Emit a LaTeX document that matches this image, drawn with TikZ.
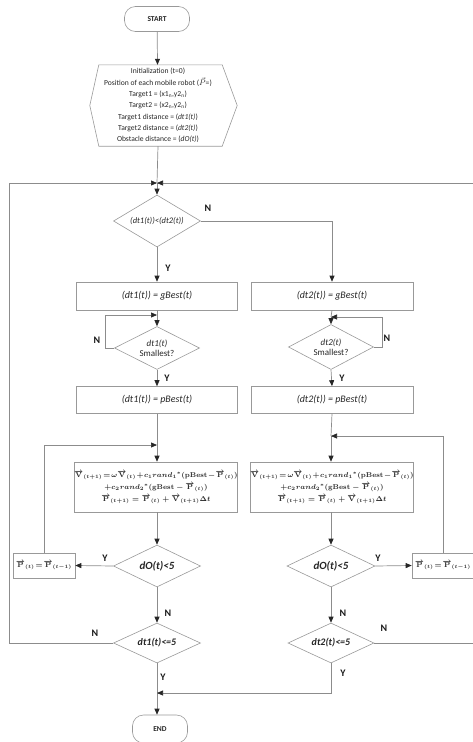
\documentclass[tikz,border=0pt]{standalone}
\usepackage{fontspec}
\setmainfont{Carlito}
\usetikzlibrary{arrows.meta,shapes.geometric,calc}
\newcommand{\vv}[1]{\overrightarrow{\mathbf{#1}}}
\begin{document}
\begin{tikzpicture}[x=1pt,y=-1pt,
  ln/.style={draw=black!45, line width=0.7pt},
  arr/.style={ln, -{Triangle[length=6pt,width=5pt,color=black!85]}},
  border/.style={draw=black!40, line width=0.6pt},
  bx/.style={border, rectangle, inner sep=1pt, align=center, text=black!85},
  dia/.style={border, diamond, aspect=2, inner sep=0pt, align=center, text=black!85},
  term/.style={border, rectangle, rounded corners=11pt, inner sep=0pt, font=\fontsize{7.5}{8}\selectfont\bfseries, text=black!85},
  lbl/.style={font=\fontsize{10}{10}\selectfont\bfseries, text=black!90, inner sep=0pt},
  small/.style={font=\fontsize{10}{12}\selectfont\itshape},
  eqn/.style={bx, inner sep=0pt, font=\fontsize{6.9}{12}\selectfont\boldmath},
  seqn/.style={bx, inner sep=0pt, font=\fontsize{6.6}{9}\selectfont\boldmath},
]
\useasboundingbox (0,0) rectangle (472,742);

% terminals and init
\node[term, minimum width=65pt, minimum height=25pt] (start) at (157,19) {START};
\node[inner sep=0pt, minimum width=124pt, minimum height=81pt, align=center,
      font=\fontsize{7.6}{11.3}\selectfont, text=black!85] (init) at (158,105.5)
  {Initialization (t=0)\\
   Position of each mobile robot ($\vec{P}$=)\\
   Target1 = (x1\textsubscript{n},y2\textsubscript{n})\\
   Target2 = (x2\textsubscript{n},y2\textsubscript{n})\\
   Target1 distance = (\textit{dt1(t)})\\
   Target2 distance = (\textit{dt2(t)})\\
   Obstacle distance = (\textit{dO(t)})};
\draw[border] ([xshift=3pt]init.north west) -- ([xshift=2pt]init.north east)
  -- ([xshift=17pt]init.east) -- ([xshift=2pt]init.south east)
  -- ([xshift=3pt]init.south west) -- ([xshift=-6pt]init.west) -- cycle;

% first decision
\node[dia, minimum width=87pt, minimum height=52pt, font=\fontsize{8.5}{9}\selectfont\itshape] (d1) at (157,221) {(dt1(t))<(dt2(t))};

% left column
\node[bx, minimum width=161pt, minimum height=28pt, small] (g1) at (157,296) {(dt1(t)) = gBest(t)};
\node[dia, minimum width=85pt, minimum height=43pt, font=\fontsize{9}{10}\selectfont] (s1d) at (157,348) {\textit{dt1(t)}\\Smallest?};
\node[bx, minimum width=161pt, minimum height=27pt, small] (p1) at (157,400) {(dt1(t)) = pBest(t)};
\node[eqn, minimum width=162pt, minimum height=50pt] (v1) at (156,487)
  {$\vv{V}_{(t+1)}\!=\!\omega\vv{V}_{(t)}\!+\!c_1 rand_1{}^{*}(\mathbf{pBest}\!-\!\vv{P}_{(t)})$\\
   $+c_2 rand_2{}^{*}(\mathbf{gBest}-\vv{P}_{(t)})$\\
   $\vv{P}_{(t+1)}=\vv{P}_{(t)}+\vv{V}_{(t+1)}\Delta t$};
\node[dia, minimum width=87pt, minimum height=42pt, font=\fontsize{11}{12}\selectfont\bfseries\itshape] (o1) at (157,566) {dO(t)<5};
\node[seqn, minimum width=62pt, minimum height=25pt] (r1) at (44,565.5) {$\vv{P}_{(t)}\!=\!\vv{P}_{(t-1)}$};
\node[dia, minimum width=87pt, minimum height=40pt, font=\fontsize{10}{11}\selectfont\bfseries\itshape] (e1) at (157,643) {dt1(t)<=5};
\node[term, minimum width=55pt, minimum height=28pt] (end) at (160,729) {END};

% right column
\node[bx, minimum width=162pt, minimum height=28pt, small] (g2) at (332,296) {(dt2(t)) = gBest(t)};
\node[dia, minimum width=85pt, minimum height=45pt, font=\fontsize{9}{10}\selectfont] (s2d) at (331,347) {\textit{dt2(t)}\\Smallest?};
\node[bx, minimum width=162pt, minimum height=27pt, small] (p2) at (332,400) {(dt2(t)) = pBest(t)};
\node[eqn, minimum width=162pt, minimum height=50pt] (v2) at (332,487)
  {$\vv{V}_{(t+1)}\!=\!\omega\vv{V}_{(t)}\!+\!c_1 rand_1{}^{*}(\mathbf{pBest}\!-\!\vv{P}_{(t)})$\\
   $+c_2 rand_2{}^{*}(\mathbf{gBest}-\vv{P}_{(t)})$\\
   $\vv{P}_{(t+1)}=\vv{P}_{(t)}+\vv{V}_{(t+1)}\Delta t$};
\node[dia, minimum width=88pt, minimum height=42pt, font=\fontsize{11}{12}\selectfont\bfseries\itshape] (o2) at (331,566) {dO(t)<5};
\node[seqn, minimum width=62pt, minimum height=25pt] (r2) at (443,565.5) {$\vv{P}_{(t)}\!=\!\vv{P}_{(t-1)}$};
\node[dia, minimum width=86pt, minimum height=40pt, font=\fontsize{10}{11}\selectfont\bfseries\itshape] (e2) at (331,643) {dt2(t)<=5};

% junction coordinates
\coordinate (J1) at (157,183);
\coordinate (J2) at (157,315);
\coordinate (J3) at (331,317);
\coordinate (J4) at (157,445);
\coordinate (J5) at (331,436);
\coordinate (J6) at (157,693);

% connectors
\draw[arr] (start) -- (init);
\draw[ln] (init.south) -- (J1);
\draw[arr] (J1) -- (d1.north);
\draw[arr] (e1.west) -- (9,643) -- (9,183) -- (J1);
\draw[arr] (e2.east) -- (475,643) -- (475,183) -- (J1);

\draw[arr] (d1.south) -- (g1.north);
\draw[arr] (d1.east) -| (g2.north);

\draw[ln] (g1.south) -- (J2);
\draw[arr] (J2) -- (s1d.north);
\draw[arr] (s1d.west) -- (105,348) -- (105,315) -- (J2);
\draw[arr] (s1d.south) -- (p1.north);

\draw[ln] (g2.south) -- (J3);
\draw[arr] (J3) -- (s2d.north);
\draw[arr] (s2d.east) -- (382,347) -- (382,317) -- (J3);
\draw[arr] (s2d.south) -- (p2.north);

\draw[ln] (p1.south) -- (J4);
\draw[arr] (J4) -- (v1.north -| J4);
\draw[arr] (r1.north) |- (J4);
\draw[ln] (p2.south) -- (J5);
\draw[arr] (J5) -- (v2.north -| J5);
\draw[arr] (r2.north) |- (J5);

\draw[arr] (v1.south -| o1) -- (o1.north);
\draw[arr] (o1.west) -- (r1.east);
\draw[arr] (v2.south -| o2) -- (o2.north);
\draw[arr] (o2.east) -- (r2.west);

\draw[arr] (o1.south) -- (e1.north);
\draw[arr] (o2.south) -- (e2.north);

\draw[ln] (e1.south) -- (J6);
\draw[arr] (J6) -- (end.north -| J6);
\draw[arr] (e2.south) |- (J6);

% labels
\node[lbl] (l1) at (208,208) {N};
\node[lbl] (l2) at (168,268) {Y};
\node[lbl] (l3) at (97,340) {N};
\node[lbl] (l4) at (167,378) {Y};
\node[lbl] (l5) at (387,338) {N};
\node[lbl] (l6) at (342,378) {Y};
\node[lbl] (l7) at (105,558) {Y};
\node[lbl] (l8) at (378,558) {Y};
\node[lbl] (l9) at (168,613) {N};
\node[lbl] (l10) at (343,613) {N};
\node[lbl] (l11) at (95,633) {N};
\node[lbl] (l12) at (384,628) {N};
\node[lbl] (l13) at (163,677) {Y};
\node[lbl] (l14) at (343,673) {Y};
\end{tikzpicture}
\end{document}
